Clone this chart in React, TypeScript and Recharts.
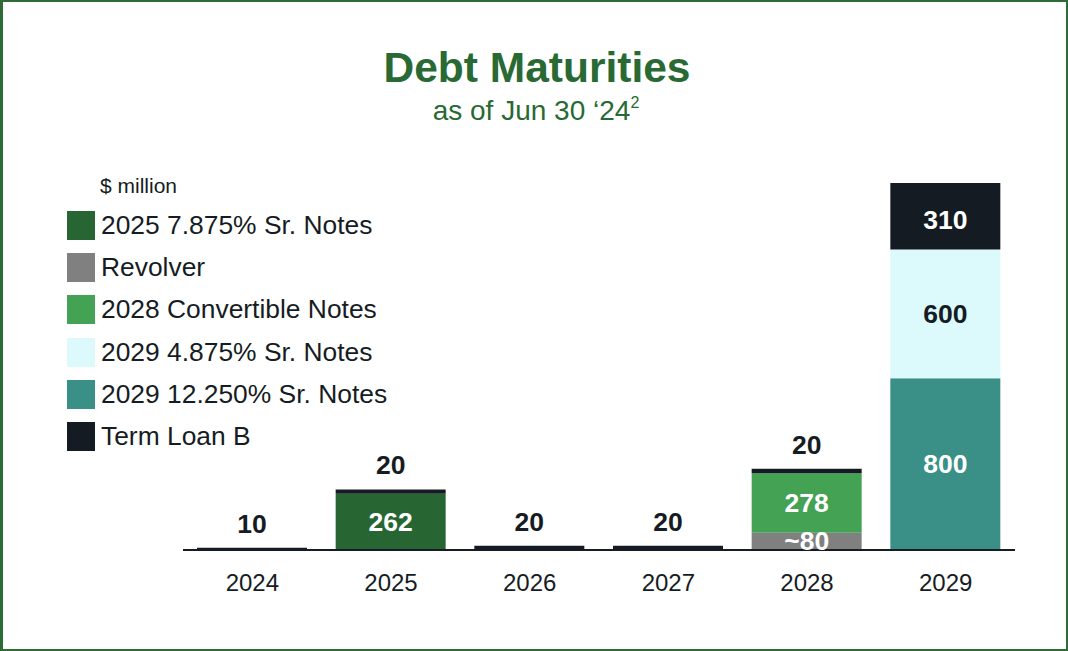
import React from 'react';
import { BarChart, Bar, XAxis, YAxis, LabelList, Legend } from 'recharts';

const categories = ['2024', '2025', '2026', '2027', '2028', '2029'];
const notes2025 = [null, 262, null, null, null, null];
const revolver = [null, null, null, null, 80, null];
const convertible2028 = [null, null, null, null, 278, null];
const notes2029High = [null, null, null, null, null, 800];
const notes2029Low = [null, null, null, null, null, 600];
const termLoanB = [10, 20, 20, 20, 20, 310];

const seriesNames = {
  notes2025: '2025 7.875% Sr. Notes',
  revolver: 'Revolver',
  convertible2028: '2028 Convertible Notes',
  notes2029Low: '2029 4.875% Sr. Notes',
  notes2029High: '2029 12.250% Sr. Notes',
  termLoanB: 'Term Loan B',
};
const legendOrder = ['notes2025', 'revolver', 'convertible2028', 'notes2029Low', 'notes2029High', 'termLoanB'];

const colors = {
  notes2025: '#276633',
  revolver: '#808080',
  convertible2028: '#43a254',
  notes2029Low: '#dcfafc',
  notes2029High: '#3a9087',
  termLoanB: '#141b22',
};

const data = categories.map((c, i) => ({
  year: c,
  notes2025: notes2025[i],
  revolver: revolver[i],
  convertible2028: convertible2028[i],
  notes2029High: notes2029High[i],
  notes2029Low: notes2029Low[i],
  termLoanB: termLoanB[i],
}));

const FONT = '"Liberation Sans", Arial, Helvetica, sans-serif';
const DARK = '#161c23';
const GREEN = '#296a34';

const makeLabel = (opts: { fill: string; prefix?: string; aboveIfSmall?: boolean }) => (props: any) => {
  const vb = props.viewBox || {};
  const x = props.x ?? vb.x;
  const y = props.y ?? vb.y;
  const width = props.width ?? vb.width;
  const height = props.height ?? vb.height;
  const value = props.value;
  if (value == null || x == null) return null;
  const small = opts.aboveIfSmall && Math.abs(height) < 30;
  const cx = x + width / 2;
  const cy = small ? y - 24 : y + height / 2 + (opts.aboveIfSmall ? 4 : 0);
  return (
    <text
      x={cx}
      y={cy}
      textAnchor="middle"
      dominantBaseline="central"
      fontFamily={FONT}
      fontWeight="bold"
      fontSize={26.5}
      fill={small ? DARK : opts.fill}
    >
      {(opts.prefix || '') + value}
    </text>
  );
};

const LegendContent = (props: any) => {
  const payload = [...(props.payload || [])].sort(
    (a: any, b: any) => legendOrder.indexOf(a.dataKey) - legendOrder.indexOf(b.dataKey)
  );
  return (
    <div style={{ position: 'absolute', left: 0, top: 0, width: 1068, height: 651, pointerEvents: 'none' }}>
      <div style={{ position: 'absolute', left: 100, top: 174, fontFamily: FONT, fontSize: 21, color: DARK, lineHeight: '24px', whiteSpace: 'nowrap' }}>
        $ million
      </div>
      {payload.map((p: any, i: number) => (
        <div key={p.dataKey} style={{ position: 'absolute', left: 67, top: 211 + i * 42.2, height: 29, display: 'flex', alignItems: 'center', whiteSpace: 'nowrap' }}>
          <div style={{ width: 28, height: 29, background: p.color }} />
          <span style={{ marginLeft: 6, fontFamily: FONT, fontSize: 26.4, color: DARK, lineHeight: '29px' }}>{p.value}</span>
        </div>
      ))}
    </div>
  );
};

export default function App() {
  const keys = ['notes2025', 'revolver', 'convertible2028', 'notes2029High', 'notes2029Low', 'termLoanB'];
  return (
    <div style={{ position: 'absolute', left: 0, top: 0, width: 1068, height: 651, background: '#fff', overflow: 'hidden' }}>
      <svg width={1068} height={651} style={{ position: 'absolute', left: 0, top: 0 }}>
        <text x={537} y={82} textAnchor="middle" fontFamily={FONT} fontWeight="bold" fontSize={42.5} fill={GREEN}>
          Debt Maturities
        </text>
        <text x={536} y={120} textAnchor="middle" fontFamily={FONT} fontSize={28} fill={GREEN}>
          as of Jun 30 ‘24<tspan fontSize={16} dy={-12}>2</tspan>
        </text>
      </svg>
      <div style={{ position: 'absolute', left: 0, top: 0 }}>
        <BarChart width={1068} height={651} data={data} margin={{ top: 183, right: 53, bottom: 41, left: 183 }} barSize={110}>
          <XAxis
            dataKey="year"
            axisLine={{ stroke: DARK, strokeWidth: 2 }}
            tickLine={false}
            tickMargin={18}
            height={60}
            tick={{ fontFamily: FONT, fontSize: 24, fill: DARK }}
            interval={0}
          />
          <YAxis hide domain={[0, 1710]} />
          <Legend layout="vertical" align="center" verticalAlign="middle" content={<LegendContent />} wrapperStyle={{ left: 0, top: 0, width: 1068, height: 651 }} />
          {keys.map((k) => (
            <Bar key={k} dataKey={k} stackId="a" name={(seriesNames as any)[k]} fill={(colors as any)[k]} isAnimationActive={false}>
              <LabelList
                dataKey={k}
                content={makeLabel({
                  fill: k === 'notes2029Low' ? DARK : '#ffffff',
                  prefix: k === 'revolver' ? '~' : '',
                  aboveIfSmall: k === 'termLoanB',
                })}
              />
            </Bar>
          ))}
        </BarChart>
      </div>
      <div style={{ position: 'absolute', left: 0, top: 0, width: 1068, height: 651, boxSizing: 'border-box', border: '2px solid #2e6b36', borderLeftWidth: 3, pointerEvents: 'none' }} />
    </div>
  );
}
